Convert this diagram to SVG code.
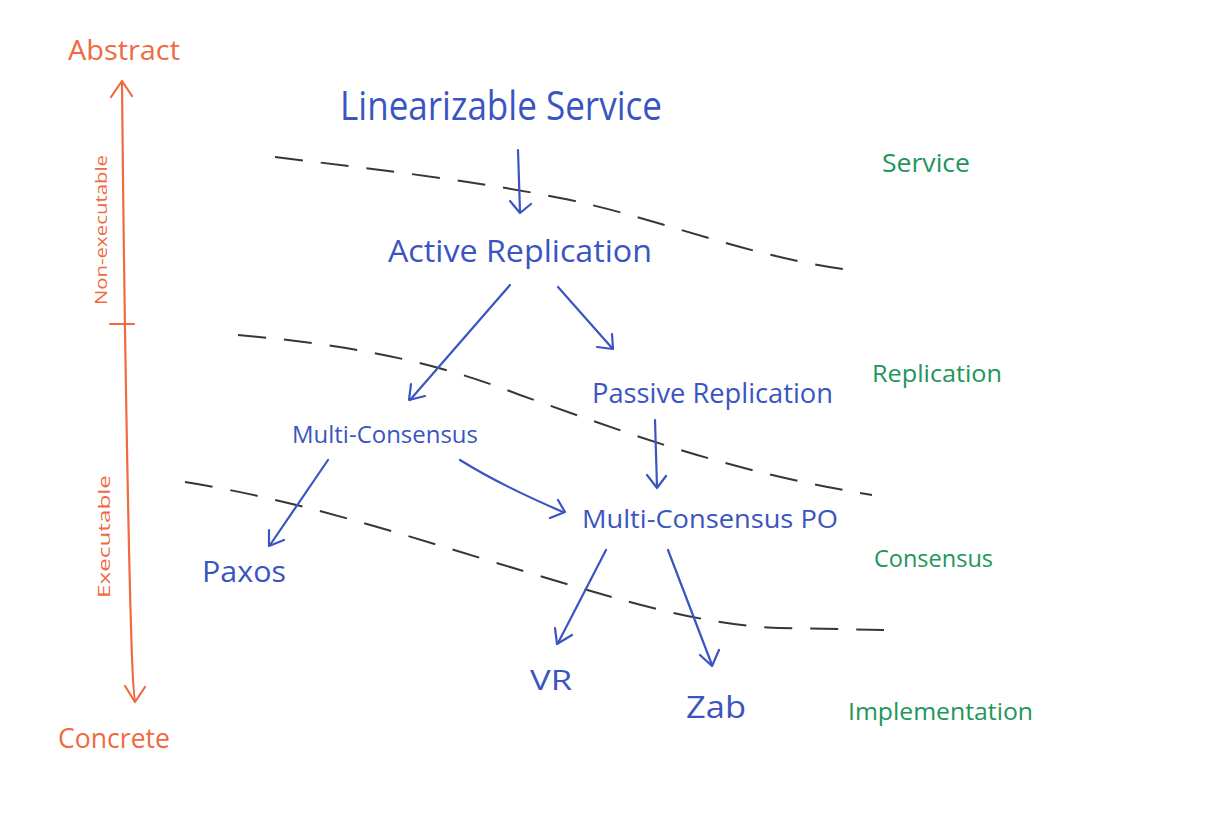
<svg xmlns="http://www.w3.org/2000/svg" width="1214" height="816" viewBox="0 0 1214 816">
<style>
.blue{fill:#3a55c0;font-family:"Open Sans","Liberation Sans",sans-serif;font-weight:400}
.green{fill:#21955a;font-family:"Open Sans","Liberation Sans",sans-serif;font-weight:400}
.orange{fill:#f0693f;font-family:"Open Sans","Liberation Sans",sans-serif;font-weight:400}
.arr{stroke:#3a55c0;stroke-width:2.2;fill:none;stroke-linecap:round;stroke-linejoin:round}
.ax{stroke:#f0693f;stroke-width:2.2;fill:none;stroke-linecap:round;stroke-linejoin:round}
.dash{stroke:#3a3436;stroke-width:2;fill:none;stroke-dasharray:28 18}
</style>
<rect width="1214" height="816" fill="#ffffff"/>
<g id="axis">
<path class="ax" d="M122,82 Q124,300 128,500 T135,700"/>
<path class="ax" d="M111,97 L122,81 L132,96"/>
<path class="ax" d="M125,686 L135,702 L145,687"/>
<path class="ax" d="M110,324 L134,324"/>
<text class="orange" x="68" y="60" font-size="27" textLength="112" lengthAdjust="spacingAndGlyphs">Abstract</text>
<text class="orange" x="58" y="748" font-size="27" textLength="112" lengthAdjust="spacingAndGlyphs">Concrete</text>
<text class="orange" transform="translate(107,305) rotate(-90)" font-size="17" textLength="150" lengthAdjust="spacingAndGlyphs">Non-executable</text>
<text class="orange" transform="translate(110,598) rotate(-90)" font-size="17" textLength="123" lengthAdjust="spacingAndGlyphs">Executable</text>
</g>
<g id="layers">
<path class="dash" d="M275,157 C380,170 470,180 560,198 C660,218 740,255 850,270"/>
<path class="dash" d="M238,335 C350,345 430,360 520,395 C620,430 720,470 872,495"/>
<path class="dash" d="M185,482 C300,500 420,540 520,570 C620,600 700,625 780,628 L884,630"/>
</g>
<g id="connectors">
<path class="arr" d="M518,150 L520,212"/><path class="arr" d="M510,201 L520,213 L531,204"/>
<path class="arr" d="M510,285 L410,400"/><path class="arr" d="M411,384 L409,400 L425,396"/>
<path class="arr" d="M558,287 L612,348"/><path class="arr" d="M597,347 L613,349 L612,334"/>
<path class="arr" d="M655,420 L657,487"/><path class="arr" d="M647,475 L657,488 L666,476"/>
<path class="arr" d="M460,460 Q500,485 563,512"/><path class="arr" d="M558,500 L565,512 L550,518"/>
<path class="arr" d="M328,460 L270,545"/><path class="arr" d="M269,530 L269,546 L284,540"/>
<path class="arr" d="M606,550 L558,643"/><path class="arr" d="M555,628 L557,644 L572,635"/>
<path class="arr" d="M668,550 L712,665"/><path class="arr" d="M700,655 L712,666 L719,650"/>
</g>
<g id="n-linearizable"><text class="blue" x="340" y="120" font-size="40" textLength="322" lengthAdjust="spacingAndGlyphs">Linearizable Service</text></g>
<g id="n-active"><text class="blue" x="388" y="262" font-size="31" textLength="264" lengthAdjust="spacingAndGlyphs">Active Replication</text></g>
<g id="n-passive"><text class="blue" x="592" y="403" font-size="27" textLength="241" lengthAdjust="spacingAndGlyphs">Passive Replication</text></g>
<g id="n-multi"><text class="blue" x="292" y="443" font-size="23" textLength="186" lengthAdjust="spacingAndGlyphs">Multi-Consensus</text></g>
<g id="n-multipo"><text class="blue" x="582" y="528" font-size="25" textLength="256" lengthAdjust="spacingAndGlyphs">Multi-Consensus PO</text></g>
<g id="n-paxos"><text class="blue" x="202" y="582" font-size="29" textLength="84" lengthAdjust="spacingAndGlyphs">Paxos</text></g>
<g id="n-vr"><text class="blue" x="530" y="690" font-size="27" textLength="42" lengthAdjust="spacingAndGlyphs">VR</text></g>
<g id="n-zab"><text class="blue" x="686" y="718" font-size="31" textLength="60" lengthAdjust="spacingAndGlyphs">Zab</text></g>
<g id="labels">
<text class="green" x="882" y="172" font-size="25" textLength="88" lengthAdjust="spacingAndGlyphs">Service</text>
<text class="green" x="872" y="382" font-size="24" textLength="130" lengthAdjust="spacingAndGlyphs">Replication</text>
<text class="green" x="874" y="567" font-size="24" textLength="119" lengthAdjust="spacingAndGlyphs">Consensus</text>
<text class="green" x="848" y="720" font-size="24" textLength="185" lengthAdjust="spacingAndGlyphs">Implementation</text>
</g>
</svg>
